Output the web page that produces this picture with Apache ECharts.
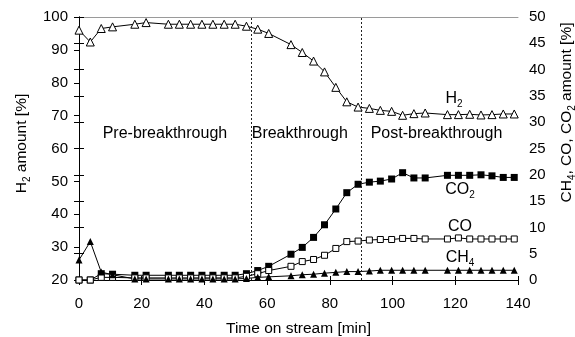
<!DOCTYPE html>
<html>
<head>
<meta charset="utf-8">
<script src="https://cdn.jsdelivr.net/npm/echarts@6/dist/echarts.min.js"></script>
<style>
html,body{margin:0;padding:0;background:#fff;}
#chart{width:575px;height:337px;}
</style>
</head>
<body>
<div id="chart"></div>
<script>
// Time on stream [min]
var time = [0, 3.6, 7.1, 10.7, 17.8, 21.4, 28.5, 32.0, 35.6, 39.2, 42.7, 46.3, 49.8, 53.4, 57.0, 60.5,
            67.6, 71.2, 74.8, 78.3, 81.9, 85.4, 89.0, 92.6, 96.1, 99.7, 103.2, 106.8, 110.4,
            117.5, 121.0, 124.6, 128.2, 131.7, 135.3, 138.8];
// H2 amount [%] (left axis)
var h2 = [96, 92.4, 96.5, 97, 97.8, 98.3, 97.8, 97.8, 97.8, 97.8, 97.8, 97.8, 97.8, 97.2, 96.3, 95,
          91.6, 89.2, 86.6, 83.3, 78.6, 74.2, 72.6, 72.2, 71.6, 71.3, 70.1, 70.6, 70.8,
          70.3, 70.3, 70.4, 70.2, 70.3, 70.5, 70.5];
// CO2 amount [%] (right axis)
var co2 = [0, 0, 1.2, 1.1, 0.9, 0.9, 0.9, 0.9, 0.9, 0.9, 0.9, 0.9, 0.9, 1.2, 1.8, 2.6,
           4.9, 6.2, 8.1, 10.5, 13.5, 16.6, 18.2, 18.6, 18.8, 19.2, 20.4, 19.4, 19.4,
           19.9, 19.9, 19.9, 20.0, 19.8, 19.5, 19.5];
// CO amount [%] (right axis)
var co = [0, 0, 0.5, 0.5, 0.4, 0.4, 0.4, 0.4, 0.4, 0.4, 0.4, 0.4, 0.4, 0.7, 1.2, 1.8,
          2.6, 3.5, 3.9, 4.7, 6.0, 7.3, 7.4, 7.6, 7.7, 7.7, 7.9, 7.9, 7.8,
          7.8, 8.0, 7.8, 7.8, 7.8, 7.8, 7.8];
// CH4 amount [%] (right axis)
var ch4 = [3.8, 7.3, 1.5, 1.0, 0.2, 0.2, 0.2, 0.2, 0.2, 0.2, 0.2, 0.2, 0.2, 0.3, 0.5, 0.6,
           0.8, 1.0, 1.1, 1.3, 1.45, 1.6, 1.6, 1.7, 1.85, 1.85, 1.85, 1.85, 1.85,
           1.85, 1.85, 1.85, 1.85, 1.85, 1.85, 1.85];
// Phase boundaries [min]
var boundaries = [55, 90];
// Tick settings
var xTicks = {min: 0, max: 140, interval: 20};
var yLeftTicks = {min: 20, max: 100, interval: 10};
var yRightTicks = {min: 0, max: 50, interval: 5};

function pairs(ys) { return time.map(function (t, i) { return [t, ys[i]]; }); }

var FONT = 'Liberation Sans, Arial, sans-serif';
var rich = {
  n: {fontFamily: FONT, fontSize: 16, color: '#000'},
  s: {fontFamily: FONT, fontSize: 10, color: '#000', verticalAlign: 'bottom', padding: [11, 0, 0, 0]}
};
var richAxis = {
  n: {fontFamily: FONT, fontSize: 15.5, color: '#000'},
  s: {fontFamily: FONT, fontSize: 10, color: '#000', verticalAlign: 'bottom', padding: [10, 0, 0, 0]}
};

var chart = echarts.init(document.getElementById('chart'), null, {renderer: 'canvas'});
var lineCommon = {type: 'line', lineStyle: {color: '#000', width: 1}, animation: false, z: 3};

chart.setOption({
  backgroundColor: '#fff',
  animation: false,
  grid: {left: 79, right: 57, top: 17, bottom: 57, containLabel: false, outerBoundsMode: 'none'},
  xAxis: [{
    type: 'value', min: xTicks.min, max: xTicks.max, interval: xTicks.interval,
    position: 'bottom',
    name: 'Time on stream [min]', nameLocation: 'middle', nameGap: 41,
    nameTextStyle: {fontFamily: FONT, fontSize: 15.5, color: '#000'},
    axisLine: {lineStyle: {color: '#000', width: 1}},
    axisTick: {length: 5, lineStyle: {color: '#000'}},
    axisLabel: {fontFamily: FONT, fontSize: 15, color: '#000', margin: 16},
    splitLine: {show: false}
  }, {
    type: 'value', min: xTicks.min, max: xTicks.max, interval: xTicks.interval,
    position: 'bottom',
    axisLine: {show: false},
    axisTick: {inside: true, length: 4, lineStyle: {color: '#000'}},
    axisLabel: {show: false}, splitLine: {show: false}
  }, {
    type: 'value', min: xTicks.min, max: xTicks.max, position: 'top',
    axisLine: {lineStyle: {color: '#9a9a9a', width: 1}},
    axisTick: {show: false}, axisLabel: {show: false}, splitLine: {show: false}
  }],
  yAxis: [{
    type: 'value', min: yLeftTicks.min, max: yLeftTicks.max, interval: yLeftTicks.interval,
    position: 'left',
    name: '{n|H}{s|2}{n| amount [%]}', nameLocation: 'middle', nameGap: 41, nameRotate: 90,
    nameTextStyle: {rich: richAxis, padding: [0, 0, 0, 10]},
    axisLine: {show: true, lineStyle: {color: '#000', width: 1}},
    axisTick: {length: 5, lineStyle: {color: '#000'}},
    axisLabel: {fontFamily: FONT, fontSize: 15, color: '#000', margin: 11},
    splitLine: {show: false}
  }, {
    type: 'value', min: yRightTicks.min, max: yRightTicks.max, interval: yRightTicks.interval,
    position: 'right',
    name: '{n|CH}{s|4}{n|, CO, CO}{s|2}{n| amount [%]}', nameLocation: 'middle', nameGap: 39, nameRotate: 90,
    nameTextStyle: {rich: richAxis, padding: [0, 0, 0, 72]},
    axisLine: {show: true, lineStyle: {color: '#000', width: 1}},
    axisTick: {length: 5, lineStyle: {color: '#000'}},
    axisLabel: {fontFamily: FONT, fontSize: 15, color: '#000', margin: 11},
    splitLine: {show: false}
  }, {
    type: 'value', min: yRightTicks.min, max: yRightTicks.max, interval: yRightTicks.interval,
    position: 'right',
    axisLine: {show: false},
    axisTick: {inside: true, length: 5, lineStyle: {color: '#000'}},
    axisLabel: {show: false}, splitLine: {show: false}
  }],
  series: [
    Object.assign({}, lineCommon, {
      name: 'H2', yAxisIndex: 0, data: pairs(h2),
      symbol: 'triangle', symbolSize: 8,
      itemStyle: {color: '#fff', borderColor: '#000', borderWidth: 1},
      markLine: {
        silent: true, symbol: ['none', 'none'], label: {show: false},
        lineStyle: {color: '#222', type: [2, 2], width: 1},
        data: boundaries.map(function (b) { return {xAxis: b}; })
      },
      markPoint: {
        silent: true, symbol: 'circle', symbolSize: 0,
        label: {show: true, position: 'inside', fontFamily: FONT, fontSize: 16, color: '#000', formatter: '{b}', rich: rich},
        data: [
          {name: 'Pre-breakthrough', coord: [27.4, 64.5]},
          {name: 'Breakthrough', coord: [70.4, 64.5]},
          {name: 'Post-breakthrough', coord: [114, 64.5]},
          {name: 'H2', coord: [119.6, 75.2], label: {formatter: '{n|H}{s|2}'}}
        ]
      }
    }),
    Object.assign({}, lineCommon, {
      name: 'CO2', yAxisIndex: 1, data: pairs(co2),
      symbol: 'rect', symbolSize: 7,
      itemStyle: {color: '#000', borderColor: '#000', borderWidth: 0},
      markPoint: {
        silent: true, symbol: 'circle', symbolSize: 0,
        label: {show: true, position: 'inside', rich: rich},
        data: [
          {name: 'CO2', coord: [121.5, 17.2], label: {formatter: '{n|CO}{s|2}'}},
          {name: 'CO', coord: [121.5, 10.1], label: {formatter: '{n|CO}'}},
          {name: 'CH4', coord: [121.5, 4.2], label: {formatter: '{n|CH}{s|4}'}}
        ]
      }
    }),
    Object.assign({}, lineCommon, {
      name: 'CO', yAxisIndex: 1, data: pairs(co),
      symbol: 'rect', symbolSize: 6,
      itemStyle: {color: '#fff', borderColor: '#000', borderWidth: 1}
    }),
    Object.assign({}, lineCommon, {
      name: 'CH4', yAxisIndex: 1, data: pairs(ch4),
      symbol: 'triangle', symbolSize: 7,
      itemStyle: {color: '#000', borderColor: '#000', borderWidth: 0}
    })
  ]
});
</script>
</body>
</html>
